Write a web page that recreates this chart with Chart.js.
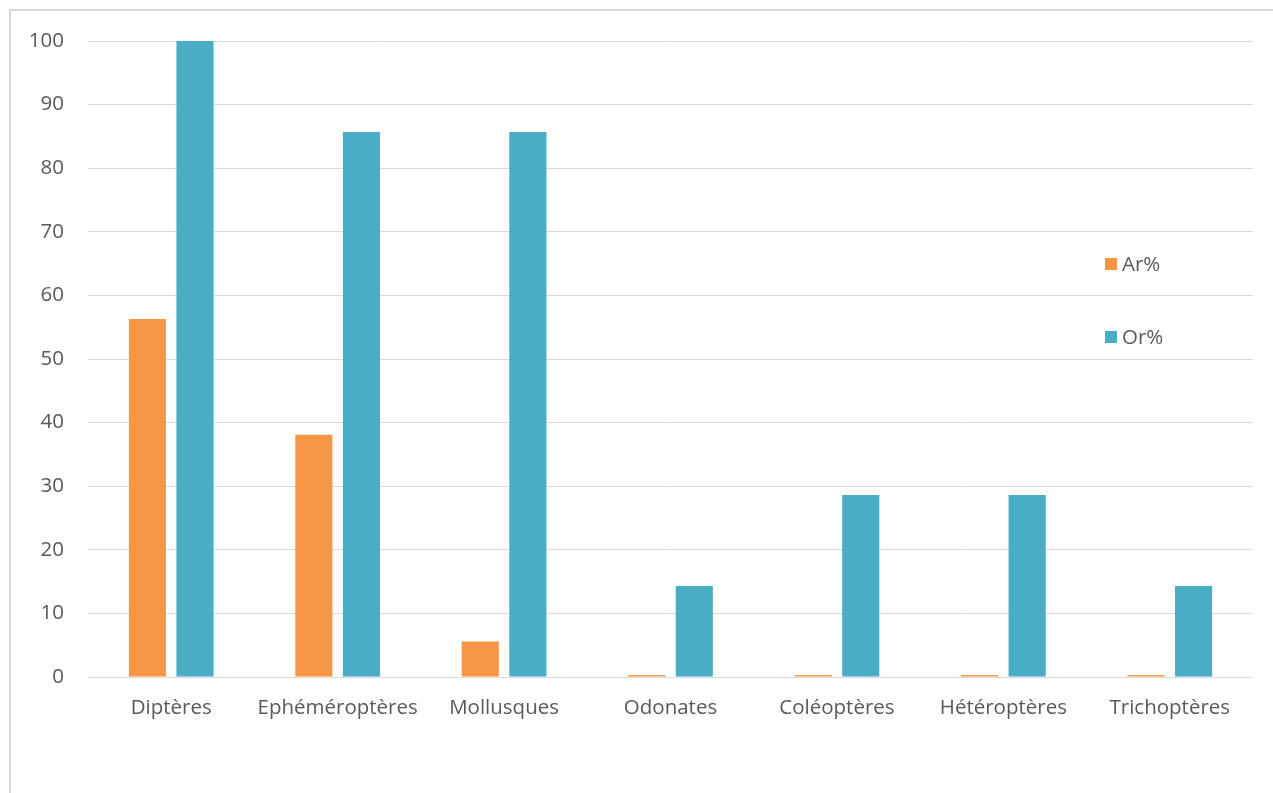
<!DOCTYPE html>
<html>
<head>
<meta charset="utf-8">
<script src="https://cdn.jsdelivr.net/npm/chart.js@4.4.1/dist/chart.umd.min.js"></script>
<style>
  html, body { margin: 0; padding: 0; background: #ffffff; overflow: hidden; }
  #wrap { position: relative; width: 1273px; height: 793px; }
  #frame { position: absolute; left: 9px; top: 9px; width: 1400px; height: 900px;
           border: 2px solid #d9d9d9; box-sizing: border-box; pointer-events: none; }
  canvas { position: absolute; left: 0; top: 0; }
</style>
</head>
<body>
<div id="wrap">
  <canvas id="c" width="1273" height="793"></canvas>
  <div id="frame"></div>
</div>
<script>
// Taxa groups and their relative frequencies (%) in the two samples
const categories = ['Diptères', 'Ephéméroptères', 'Mollusques', 'Odonates', 'Coléoptères', 'Hétéroptères', 'Trichoptères'];
const arValues = [56.3, 38.1, 5.6, 0.3, 0.3, 0.3, 0.3];
const orValues = [100, 85.7, 85.7, 14.3, 28.6, 28.6, 14.3];
const seriesNames = ['Ar%', 'Or%'];
const yTicks = [0, 10, 20, 30, 40, 50, 60, 70, 80, 90, 100];

const textColor = '#595959';
const gridColor = '#d9d9d9';
const fontFamily = "'Open Sans', 'Liberation Sans', sans-serif";

// Legend drawn over the plot area, stacked vertically on the right
const floatingLegend = {
  id: 'floatingLegend',
  afterDraw(chart) {
    const ctx = chart.ctx;
    const x = 1105;
    const ys = [264, 337];
    ctx.save();
    ctx.font = '20.5px ' + fontFamily;
    ctx.textBaseline = 'middle';
    ctx.textAlign = 'left';
    chart.data.datasets.forEach((ds, i) => {
      ctx.fillStyle = ds.backgroundColor;
      ctx.fillRect(x, ys[i] - 6, 12, 12);
      ctx.fillStyle = textColor;
      ctx.fillText(ds.label, x + 17, ys[i] + 1);
    });
    ctx.restore();
  }
};

new Chart(document.getElementById('c'), {
  type: 'bar',
  data: {
    labels: categories,
    datasets: [
      { label: seriesNames[0], data: arValues, backgroundColor: '#F79646' },
      { label: seriesNames[1], data: orValues, backgroundColor: '#4BACC6' }
    ]
  },
  options: {
    responsive: false,
    animation: false,
    devicePixelRatio: 1,
    layout: { padding: { top: 41, right: 20, left: 0, bottom: 0 } },
    datasets: { bar: { categoryPercentage: 0.572, barPercentage: 0.78 } },
    plugins: {
      legend: { display: false },
      tooltip: { enabled: false }
    },
    scales: {
      x: {
        grid: { display: false, drawTicks: false },
        border: { display: false },
        ticks: { color: textColor, font: { size: 20.5, family: fontFamily }, padding: 19,
                 maxRotation: 0, minRotation: 0, autoSkip: false },
        afterFit(scale) { scale.height = 116; }
      },
      y: {
        min: 0,
        max: 100,
        afterBuildTicks(scale) { scale.ticks = yTicks.map(v => ({ value: v })); },
        grid: { color: gridColor, lineWidth: 1, drawTicks: false },
        border: { display: false },
        ticks: { color: textColor, font: { size: 20.5, family: fontFamily }, padding: 24 },
        afterFit(scale) { scale.width = 88; }
      }
    }
  },
  plugins: [floatingLegend]
});
</script>
</body>
</html>
